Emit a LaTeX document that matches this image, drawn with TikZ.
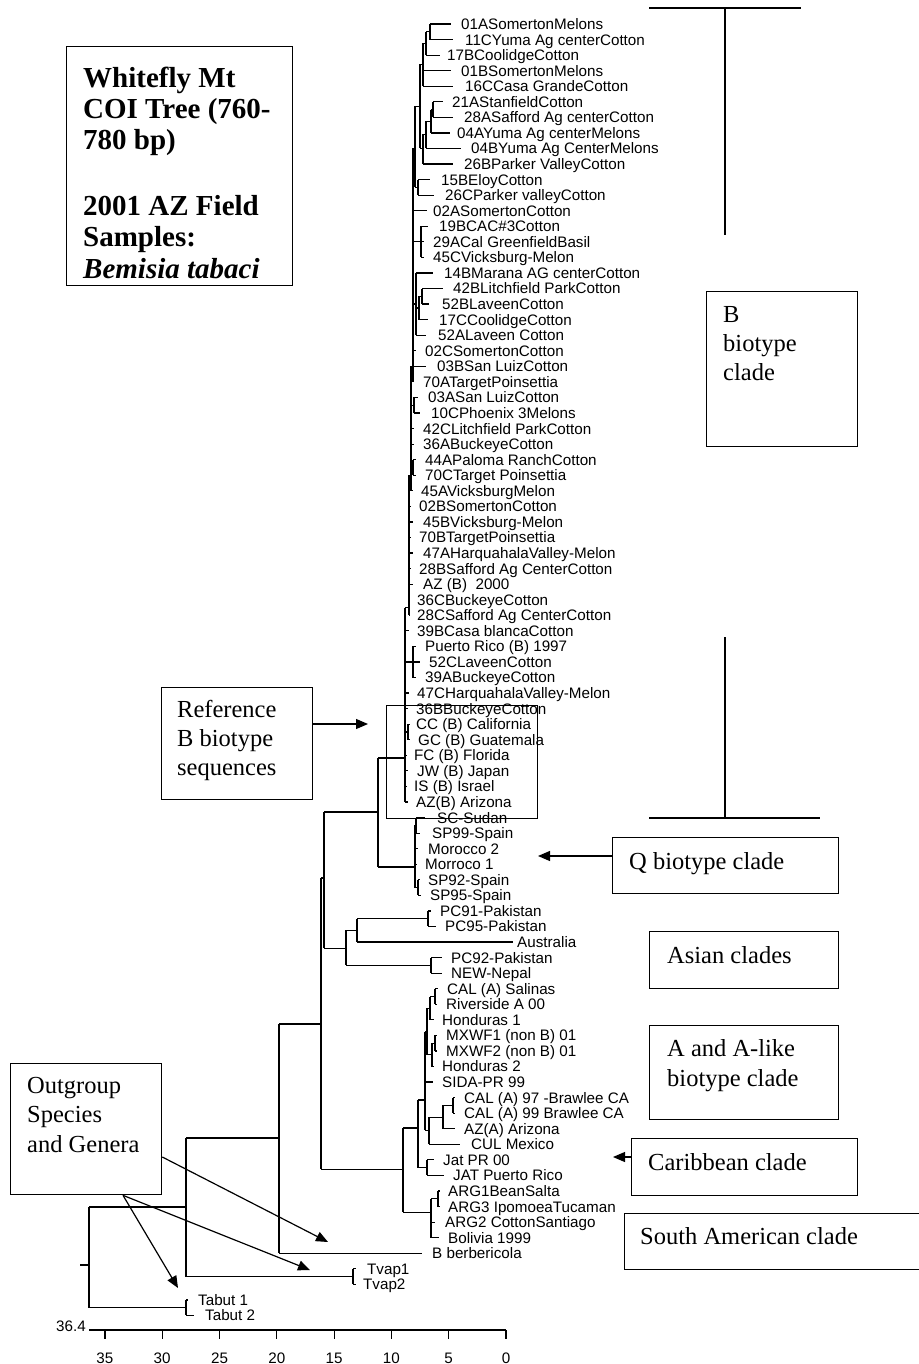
\documentclass[tikz,border=0pt]{standalone}
\usepackage{fontspec}
\setmainfont{Liberation Serif}
\newfontfamily\leaffont{Liberation Sans}
\usetikzlibrary{arrows.meta}
\newcommand\Y[1]{{24+15.56*(#1)}}
% parent x, node x, connect t, top t, bottom t
\newcommand\nd[5]{\draw[tree] (#1,\Y{#3}) -- (#2,\Y{#3}) (#2,\Y{#4}) -- (#2,\Y{#5});}
\begin{document}
\begin{tikzpicture}[x=1pt,y=-1pt,
  tree/.style={line width=1.2pt},
  leaf/.style={anchor=west, inner sep=0pt, font=\leaffont\fontsize{15.2}{15.2}\selectfont, text height=10.9pt, text depth=0pt},
  boxshape/.style={draw, line width=1.3pt, anchor=north west, inner sep=0pt},
  boxtext/.style={anchor=base west, inner sep=0pt, font=\fontsize{24.5}{24.5}\selectfont},
  titletext/.style={anchor=base west, inner sep=0pt, font=\bfseries\fontsize{29}{29}\selectfont},
  arr/.style={line width=1.2pt, -{Triangle[length=12pt,width=10pt]}},
]
\useasboundingbox (0,0) rectangle (918,1364);

% ---------- leaves with their terminal branches ----------
\foreach \i/\x/\n/\g/\t in {
0/461/430/10/01ASomertonMelons,
1/465/430/12/11CYuma Ag centerCotton,
2/447/426/7/17BCoolidgeCotton,
3/461/423/10/01BSomertonMelons,
4/465/423/12/16CCasa GrandeCotton,
5/452/433/9/21AStanfieldCotton,
6/464/433/11/28ASafford Ag centerCotton,
7/457/431/7/04AYuma Ag centerMelons,
8/471/426/10/04BYuma Ag CenterMelons,
9/464/423/11/26BParker ValleyCotton,
10/441/418/11/15BEloyCotton,
11/445/418/11/26CParker valleyCotton,
12/433/413/6/02ASomertonCotton,
13/439/421/11/19BCAC\#3Cotton,
14/433/421/9/29ACal GreenfieldBasil,
15/433/421/9/45CVicksburg-Melon,
16/444/416/11/14BMarana AG centerCotton,
17/453/422/10/42BLitchfield ParkCotton,
18/442/422/13/52BLaveenCotton,
19/439/419/11/17CCoolidgeCotton,
20/438/416/12/52ALaveen Cotton,
21/425/413/9/02CSomertonCotton,
22/437/413/11/03BSan LuizCotton,
23/423/411/9/70ATargetPoinsettia,
24/428/414/10/03ASan LuizCotton,
25/431/414/11/10CPhoenix 3Melons,
26/423/411/9/42CLitchfield ParkCotton,
27/423/411/9/36ABuckeyeCotton,
28/425/413/9/44APaloma RanchCotton,
29/425/413/9/70CTarget Poinsettia,
30/421/411/8/45AVicksburgMelon,
31/419/409/8/02BSomertonCotton,
32/423/409/10/45BVicksburg-Melon,
33/419/409/8/70BTargetPoinsettia,
34/423/409/10/47AHarquahalaValley-Melon,
35/419/409/8/28BSafford Ag CenterCotton,
36/423/409/10/AZ (B)\ \ 2000,
37/417/409/7/36CBuckeyeCotton,
38/417/409/7/28CSafford Ag CenterCotton,
39/417/405/8/39BCasa blancaCotton,
40/425/413/9/Puerto Rico (B) 1997,
41/429/413/9/52CLaveenCotton,
42/425/413/9/39ABuckeyeCotton,
43/417/405/8/47CHarquahalaValley-Melon,
44/416/405/8/36BBuckeyeCotton,
45/416/408/6/CC (B) California,
46/418/408/8/GC (B) Guatemala,
47/414/405/7/FC (B) Florida,
48/417/405/9/JW (B) Japan,
49/414/405/7/IS (B) Israel,
50/416/405/8/AZ(B) Arizona,
51/437/416/12/SC-Sudan,
52/432/416/12/SP99-Spain,
53/428/415/10/Morocco 2,
54/425/415/8/Morroco 1,
55/428/418/8/SP92-Spain,
56/430/418/9/SP95-Spain,
57/440/428/9/PC91-Pakistan,
58/445/428/9/PC95-Pakistan,
59/517/357/4/Australia,
60/451/431/9/PC92-Pakistan,
61/451/431/9/NEW-Nepal,
62/447/435/9/CAL (A) Salinas,
63/446/435/9/Riverside A 00,
64/442/430/8/Honduras 1,
65/446/435/9/MXWF1 (non B) 01,
66/446/435/9/MXWF2 (non B) 01,
67/442/432/8/Honduras 2,
68/442/425/9/SIDA-PR 99,
69/464/453/9/CAL (A) 97 -Brawlee CA,
70/464/453/9/CAL (A) 99 Brawlee CA,
71/464/443/9/AZ(A) Arizona,
72/471/429/11/CUL Mexico,
73/443/427/9/Jat PR 00,
74/453/427/9/JAT Puerto Rico,
75/448/438/8/ARG1BeanSalta,
76/448/438/8/ARG3 IpomoeaTucaman,
77/445/431/10/ARG2 CottonSantiago,
78/448/431/9/Bolivia 1999,
79/432/279/10/B berbericola,
80/367/353/11/Tvap1,
81/363/353/7/Tvap2,
82/198/186/10/Tabut 1,
83/205/186/11/Tabut 2}
{
  \node[leaf] (l\i) at (\x,\Y{\i}) {\t};
  \draw[tree] (\n,\Y{\i}) -- ([xshift=-\g pt]l\i.west);
}

% ---------- B clade internal nodes ----------
\nd{426}{430}{0.5}{0}{1}
\nd{423}{426}{1.25}{0.5}{2}
\nd{420}{423}{2.6}{1.25}{4}
\nd{431}{433}{5.5}{5}{6}
\nd{426}{431}{6.25}{5.5}{7}
\nd{423}{426}{7.1}{6.25}{8}
\nd{420}{423}{8}{7.1}{9}
\nd{415}{420}{5.3}{2.6}{8}
\nd{415}{418}{10.5}{10}{11}
\nd{413}{415}{8}{5.3}{10.5}
\nd{411}{413}{22.5}{8}{23}
\nd{413}{421}{14}{13}{15}
\nd{413}{416}{18}{16}{20}
\nd{416}{419}{18.25}{17.5}{19}
\nd{419}{422}{17.5}{17}{18}
\nd{409}{411}{29.5}{22}{30}
\nd{411}{414}{24.5}{24}{25}
\nd{411}{413}{28.5}{28}{29}
\nd{405}{409}{37.5}{29}{38}
\draw[tree] (405,\Y{37.5}) -- (405,\Y{50});
\nd{405}{413}{41}{40}{42}
\nd{405}{408}{45.5}{45}{46}

% ---------- Q clade ----------
\nd{415}{416}{51.5}{51}{52}
\draw[tree] (415,\Y{51.5}) -- (415,\Y{55.5});
\nd{415}{418}{55.5}{55}{56}

% ---------- B + Q ----------
\draw[tree] (378,758) -- (405,758) (378,867) -- (415,867) (378,758) -- (378,867);
\draw[tree] (324,812) -- (378,812) (324,812) -- (324,{24+15.56*59.4});

% ---------- Asian ----------
\nd{324}{346}{59.4}{58.25}{60.5}
\nd{346}{357}{58.25}{57.5}{59}
\nd{357}{428}{57.5}{57}{58}
\nd{346}{431}{60.5}{60}{61}

% ---------- A, Caribbean, South American ----------
\nd{430}{435}{62.5}{62}{63}
\nd{427}{430}{63.25}{62.5}{64}
\nd{432}{435}{65.5}{65}{66}
\nd{427}{432}{66.25}{65.5}{67}
\nd{425}{427}{64.75}{63.25}{66.25}
\nd{443}{453}{69.5}{69}{70}
\nd{429}{443}{70.25}{69.5}{71}
\nd{425}{429}{71.1}{70.25}{72}
\nd{418}{425}{69.15}{64.75}{71.1}
\nd{418}{427}{73.5}{73}{74}
\nd{403}{418}{70.95}{69.15}{73.5}
\nd{431}{438}{75.5}{75}{76}
\nd{403}{431}{76.36}{75.5}{78}
\nd{321}{403}{73.6}{70.95}{76.36}

% ---------- deep nodes ----------
\draw[tree] (321,878) -- (324,878) (321,878) -- (321,{24+15.56*73.6});
\draw[tree] (279,1024) -- (321,1024) (279,1024) -- (279,\Y{79});
\draw[tree] (186,1138) -- (279,1138) (186,1138) -- (186,\Y{80.5});
\nd{186}{353}{80.5}{80}{81}
\draw[tree] (89,1207) -- (186,1207) (89,1207) -- (89,\Y{82.5});
\nd{89}{186}{82.5}{82}{83}
\draw[tree] (80,1265) -- (89,1265);

% ---------- scale ----------
\draw[tree] (89,1330) -- (506,1330);
\foreach \d in {0,5,...,35} {
  \draw[tree] ({506-11.46*\d},1330) -- ++(0,9);
  \node[leaf, anchor=center] (tick\d) at ({506-11.46*\d},1358) {\d};
}
\node[leaf, anchor=east] (scalemax) at (86,1326) {36.4};

% ---------- B clade bracket ----------
\draw[tree] (649,8) -- (801,8) (725,8) -- (725,235);
\draw[tree] (725,637) -- (725,818) (649,818) -- (820,818);

% ---------- boxes ----------
\node[boxshape, minimum width=226pt, minimum height=239pt] (titlebox) at (66,46) {};
\node[titletext] (t1) at (83,88) {Whitefly Mt};
\node[titletext] (t2) at (83,119) {COI Tree (760-};
\node[titletext] (t3) at (83,150) {780 bp)};
\node[titletext] (t4) at (83,216) {2001 AZ Field};
\node[titletext] (t5) at (83,247) {Samples:};
\node[titletext] (t6) at (83,278) {\itshape Bemisia tabaci};

\node[boxshape, minimum width=151pt, minimum height=112pt] (refbox) at (161,687) {};
\node[boxtext] (r1) at (177,717) {Reference};
\node[boxtext] (r2) at (177,746) {B biotype};
\node[boxtext] (r3) at (177,775) {sequences};

\node[boxshape, minimum width=151pt, minimum height=113pt] (reftree) at (386,705) {};

\node[boxshape, minimum width=151pt, minimum height=155pt] (bbox) at (706,291) {};
\node[boxtext] (b1) at (723,322) {B};
\node[boxtext] (b2) at (723,351) {biotype};
\node[boxtext] (b3) at (723,380) {clade};

\node[boxshape, minimum width=226pt, minimum height=56pt] (qbox) at (612,837) {};
\node[boxtext] (q1) at (629,869) {Q biotype clade};

\node[boxshape, minimum width=189pt, minimum height=57pt] (asbox) at (649,931) {};
\node[boxtext] (as1) at (667,963) {Asian clades};

\node[boxshape, minimum width=189pt, minimum height=94pt] (abox) at (649,1025) {};
\node[boxtext] (a1) at (667,1056) {A and A-like};
\node[boxtext] (a2) at (667,1086) {biotype clade};

\node[boxshape, minimum width=226pt, minimum height=57pt] (carbox) at (631,1138) {};
\node[boxtext] (c1) at (648,1170) {Caribbean clade};

\node[boxshape, minimum width=320pt, minimum height=56pt] (sabox) at (624,1213) {};
\node[boxtext] (s1) at (640,1244) {South American clade};

\node[boxshape, minimum width=151pt, minimum height=131pt] (outbox) at (10,1063) {};
\node[boxtext] (o1) at (27,1093) {Outgroup};
\node[boxtext] (o2) at (27,1122) {Species};
\node[boxtext] (o3) at (27,1152) {and Genera};

% ---------- arrows ----------
\coordinate (refTip) at (368,724);
\draw[arr] (refbox.east |- refTip) -- (refTip);
\coordinate (qTip) at (538,856);
\draw[arr] (qbox.west |- qTip) -- (qTip);
\coordinate (cTip) at (613,1157);
\draw[arr] (carbox.west |- cTip) -- (cTip);
\coordinate (oTipA) at (328,1242);
\coordinate (oTipB) at (310,1270);
\coordinate (oTipC) at (178,1288);
\draw[arr] (outbox.east |- 0,1157) -- (oTipA);
\draw[arr] (outbox.south -| 123,0) -- (oTipB);
\draw[arr] (outbox.south -| 123,0) -- (oTipC);
\end{tikzpicture}
\end{document}
